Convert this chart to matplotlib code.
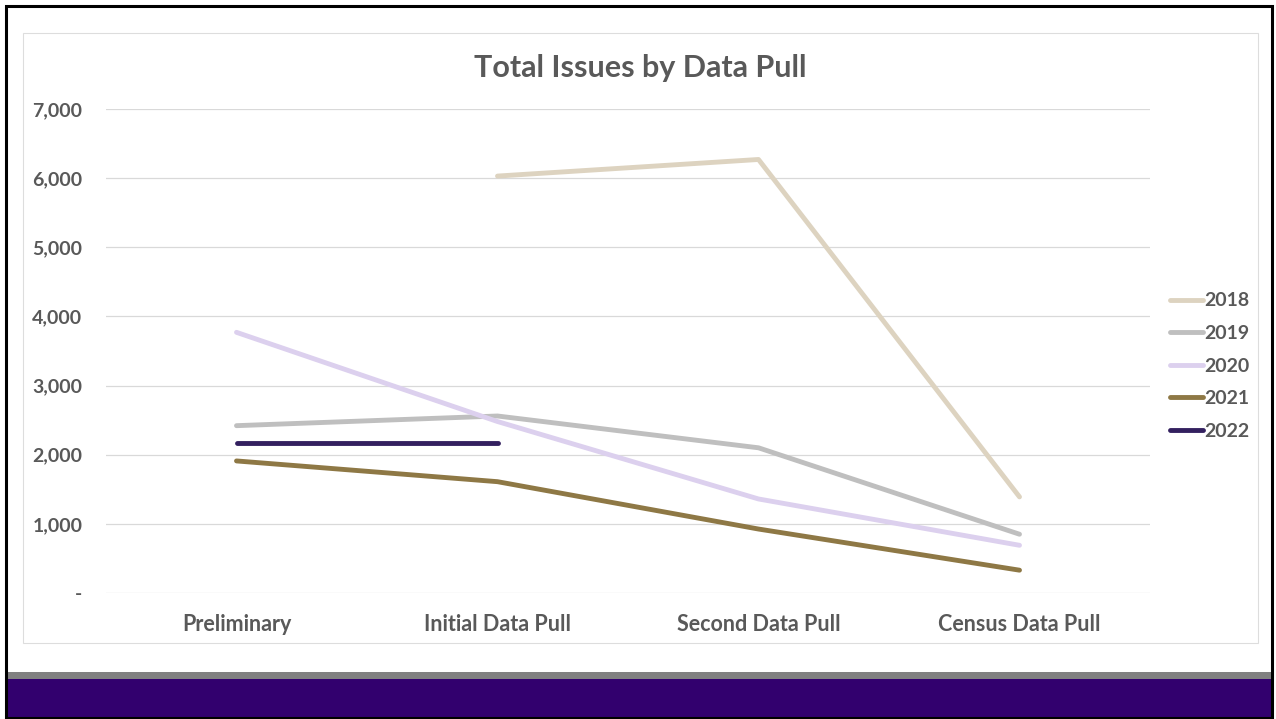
import numpy as np
import matplotlib
matplotlib.use("Agg")
import matplotlib.pyplot as plt
from matplotlib.patches import Rectangle
from matplotlib.ticker import FuncFormatter

plt.rcParams['font.family'] = ['Lato', 'DejaVu Sans']

categories = ["Preliminary", "Initial Data Pull", "Second Data Pull", "Census Data Pull"]
years = ["2018", "2019", "2020", "2021", "2022"]
issues_2018 = [np.nan, 6030, 6270, 1390]
issues_2019 = [2420, 2560, 2100, 850]
issues_2020 = [3770, 2480, 1360, 690]
issues_2021 = [1910, 1610, 925, 330]
issues_2022 = [2170, 2170, np.nan, np.nan]
colors = ["#DDD3C0", "#BFBFBF", "#DCD0EE", "#8E7845", "#33205F"]

W, H = 1276, 719
fig = plt.figure(figsize=(W / 100, H / 100), dpi=100)
fig.patch.set_facecolor("white")

def fx(px):
    return px / W

def fy(py):
    return 1 - py / H

# slide decoration: grey rule, purple footer, black frame
fig.patches.append(Rectangle((fx(6), fy(679)), fx(1266), 7 / H,
                             transform=fig.transFigure, facecolor="#808080", edgecolor="none"))
fig.patches.append(Rectangle((fx(6), fy(718)), fx(1266), 39 / H,
                             transform=fig.transFigure, facecolor="#32006E", edgecolor="none"))
fig.patches.append(Rectangle((fx(6), fy(718)), fx(1266), 712 / H,
                             transform=fig.transFigure, facecolor="none", edgecolor="black", lw=2.2))
# chart box
fig.patches.append(Rectangle((fx(23), fy(643)), fx(1235), 610 / H,
                             transform=fig.transFigure, facecolor="none", edgecolor="#DDDDDD", lw=0.8))

ax = fig.add_axes([fx(106), fy(593), fx(1044), 484 / H])
ax.set_facecolor("none")

x = np.arange(len(categories))
series = [issues_2018, issues_2019, issues_2020, issues_2021, issues_2022]
for yr, vals, c in zip(years, series, colors):
    ax.plot(x, vals, color=c, lw=3.5, solid_capstyle="round", solid_joinstyle="round", label=yr)

ax.set_xlim(-0.5, len(categories) - 0.5)
ax.set_ylim(0, 7000)
ax.set_yticks(range(0, 7001, 1000))
ax.yaxis.set_major_formatter(FuncFormatter(lambda v, p: "-" if v == 0 else f"{int(v):,}"))
ax.set_xticks(x)
ax.set_xticklabels(categories)
ax.grid(axis="y", color="#D9D9D9", lw=0.9)
ax.set_axisbelow(True)
for s in ax.spines.values():
    s.set_visible(False)
ax.tick_params(axis="y", length=0, pad=17, labelsize=14, labelcolor="#595959")
ax.tick_params(axis="x", length=0, pad=15, labelsize=15.5, labelcolor="#595959")
for lab in ax.get_xticklabels() + ax.get_yticklabels():
    lab.set_fontweight("bold")

fig.text(fx(640), fy(68), "Total Issues by Data Pull", ha="center", va="center",
         fontsize=22, fontweight="bold", color="#595959")

leg = fig.legend(loc="center left", bbox_to_anchor=(fx(1170), fy(366)), frameon=False,
                 handlelength=1.7, handletextpad=0.05, labelspacing=0.8,
                 borderpad=0, borderaxespad=0,
                 prop={"size": 14, "weight": "bold"})
for t in leg.get_texts():
    t.set_color("#595959")

fig.savefig("out.png", dpi=100)
